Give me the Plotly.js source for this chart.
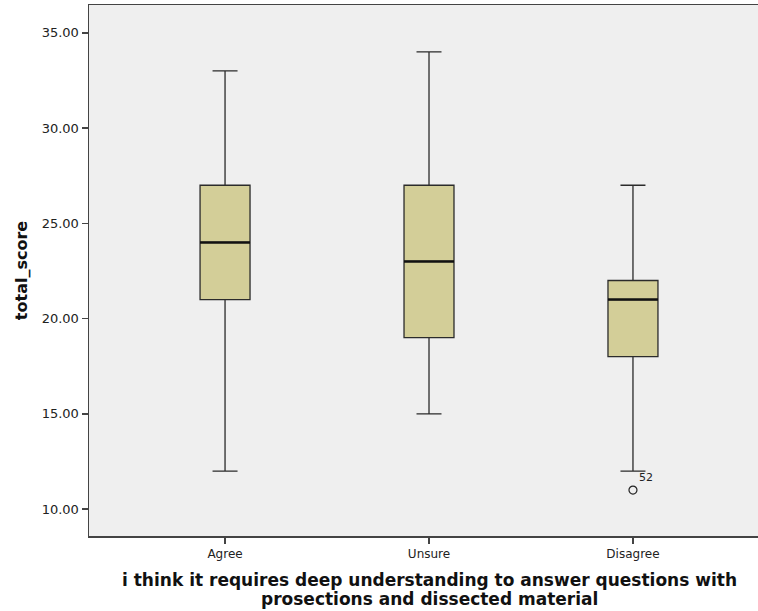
<!DOCTYPE html>
<html><head><meta charset="utf-8">
<script src="https://cdn.plot.ly/plotly-3.0.1.min.js"></script>
<style>html,body{margin:0;padding:0;background:#fff}#c{width:758px;height:611px}</style>
</head><body><div id="c"></div>
<script>
const categories = ["Agree", "Unsure", "Disagree"];
const lowerWhisker = [12, 15, 12];
const q1 = [21, 19, 18];
const medians = [24, 23, 21];
const q3 = [27, 27, 22];
const upperWhisker = [33, 34, 27];
const outlierCategory = ["Disagree"];
const outlierValue = [11];
const outlierLabel = ["52"];
const yTicks = [10, 15, 20, 25, 30, 35];
const xTitleLines = [
  "i think it requires deep understanding to answer questions with",
  "prosections and dissected material"
];

const boxW = 0.245;
const traces = [{
  type: "box",
  x: categories,
  q1: q1, median: medians, q3: q3,
  lowerfence: lowerWhisker, upperfence: upperWhisker,
  fillcolor: "#d3ce98",
  line: {color: "#2b2b2b", width: 1.3},
  width: boxW,
  whiskerwidth: 0.5,
  boxpoints: false,
  hoverinfo: "skip",
  showlegend: false
}, {
  type: "scatter",
  mode: "markers+text",
  x: outlierCategory,
  y: outlierValue,
  text: outlierLabel,
  textposition: "top right",
  textfont: {family: "DejaVu Sans, sans-serif", size: 11, color: "#222"},
  marker: {symbol: "circle-open", size: 8, color: "#222", line: {width: 1.2}},
  showlegend: false,
  cliponaxis: false
}];

const shapes = medians.map((m, i) => ({
  type: "line", xref: "x", yref: "y",
  x0: i - boxW / 2, x1: i + boxW / 2, y0: m, y1: m,
  line: {color: "#111", width: 2.5}
}));

const titleY = [-0.0829, -0.1186];
const annotations = xTitleLines.map((t, i) => ({
  text: "<b>" + t + "</b>", xref: "x", yref: "paper", x: 1, y: titleY[i],
  xanchor: "center", yanchor: "middle", showarrow: false,
  font: {size: 17, color: "#111", family: "DejaVu Sans, sans-serif"}
}));

const layout = {
  width: 758, height: 611,
  margin: {l: 89, r: 0, t: 5, b: 75},
  paper_bgcolor: "#ffffff",
  plot_bgcolor: "#efefef",
  font: {family: "DejaVu Sans, sans-serif", color: "#222"},
  shapes: shapes,
  annotations: annotations,
  xaxis: {
    type: "category",
    range: [-0.667, 2.613],
    showline: true, linecolor: "#444", linewidth: 1.5, mirror: true,
    ticks: "outside", ticklen: 6, tickcolor: "#444", tickwidth: 1.5,
    showgrid: false, zeroline: false,
    tickfont: {size: 12, color: "#222"}
  },
  yaxis: {
    range: [8.59, 36.46],
    tickvals: yTicks,
    ticktext: yTicks.map(v => v.toFixed(2)),
    showline: true, linecolor: "#444", linewidth: 1.5,
    ticks: "outside", ticklen: 6, tickcolor: "#444", tickwidth: 1.5,
    showgrid: false, zeroline: false,
    tickfont: {size: 13, color: "#222"},
    title: {text: "<b>total_score</b>", font: {size: 16, color: "#111"}, standoff: 10}
  }
};

Plotly.newPlot("c", traces, layout, {displayModeBar: false, staticPlot: true});
</script>
</body></html>
